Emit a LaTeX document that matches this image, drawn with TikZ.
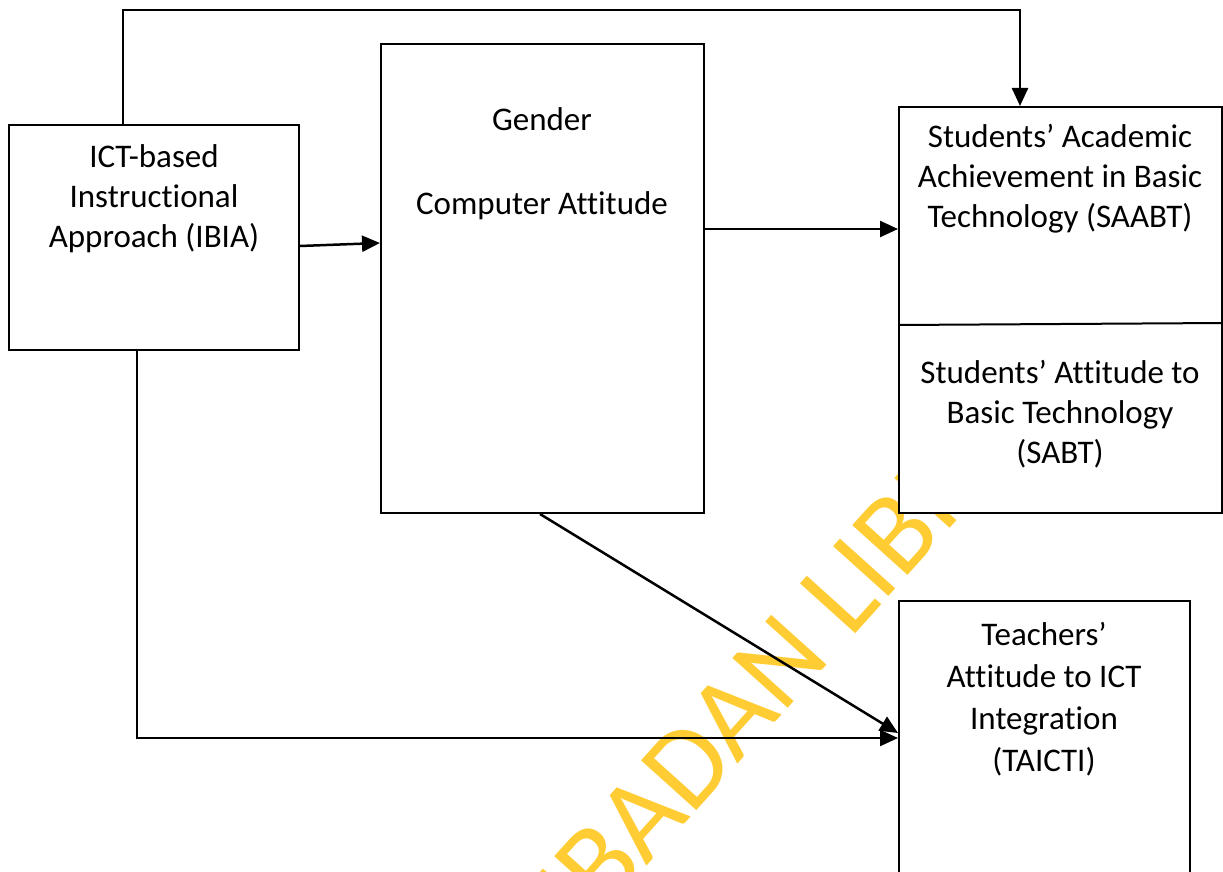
\documentclass[tikz,border=0pt]{standalone}
\usepackage{fontspec}
\setmainfont{Carlito}[Ligatures=NoCommon]
\usetikzlibrary{arrows.meta}
\definecolor{markyellow}{RGB}{255,204,51}
\begin{document}
\begin{tikzpicture}[x=1pt,y=-1pt,
    box/.style={draw,line width=2pt,fill=white,inner sep=0pt},
    txt/.style={align=center,inner sep=0pt,font=\fontsize{33}{40}\selectfont},
    arr/.style={line width=2.5pt,-{Triangle[length=18pt,width=16pt]}}]
    \useasboundingbox (0,0) rectangle (1223,872);
    \clip (0,0) rectangle (1223,872);
    % Watermark
    \node (mark) [rotate=48,anchor=base west,inner sep=0pt,text=markyellow,
        font=\fontsize{116}{120}\selectfont] at (585,934) {IBADAN LIBRARY};
    % Boxes
    \node (ibia) [box,minimum width=290pt,minimum height=225pt] at (154,237.5) {};
    \node (gender) [box,minimum width=323pt,minimum height=469pt] at (542.5,278.5) {};
    \node (saabt) [box,minimum width=323pt,minimum height=406pt] at (1060.5,310) {};
    \node (taicti) [box,minimum width=291pt,minimum height=290pt] at (1044.5,746) {};
    \draw[line width=2pt] ([yshift=-15pt]saabt.west) -- ([yshift=-13pt]saabt.east);
    % Texts
    \node (ibiatxt) [txt] at (154,199) {ICT-based\\Instructional\\Approach (IBIA)};
    \node (gendertxt) [txt] at (542,164) {Gender\\[44pt]Computer Attitude};
    \node (saabttxt) [txt] at (1060,179) {Students’ Academic\\Achievement in Basic\\Technology (SAABT)};
    \node (sabttxt) [txt] at (1060,414) {Students’ Attitude to\\Basic Technology\\(SABT)};
    \node (taictitxt) [txt,font=\fontsize{33}{42}\selectfont] at (1044,699) {Teachers’\\Attitude to ICT\\Integration\\(TAICTI)};
    % Connectors
    \coordinate (topbend) at (1020,10);
    \draw[arr] ([xshift=-31pt]ibia.north) |- (topbend) -- ([xshift=-40.5pt]saabt.north);
    \draw[arr] ([yshift=-8.5pt]ibia.east) -- ([yshift=35.5pt]gender.west);
    \draw[arr] ([yshift=49.5pt]gender.east) -- ([yshift=81pt]saabt.west);
    \draw[arr] ([xshift=-2.5pt]gender.south) -- ([yshift=13pt]taicti.west);
    \draw[arr] ([xshift=-17pt]ibia.south) |- ([yshift=8pt]taicti.west);
\end{tikzpicture}
\end{document}
